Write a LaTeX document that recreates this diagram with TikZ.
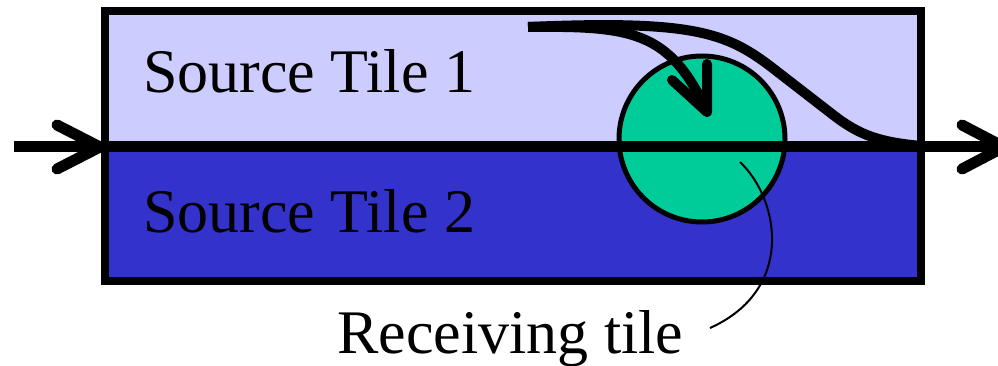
\documentclass[tikz,border=0pt]{standalone}
\usepackage{fontspec}
\setmainfont{Liberation Serif}
\definecolor{tilelight}{HTML}{CCCCFF}
\definecolor{tiledark}{HTML}{3333CC}
\definecolor{recv}{HTML}{00CC99}
\begin{document}
\begin{tikzpicture}[x=1pt,y=-1pt,
  label/.style={anchor=base west,inner sep=0pt,font=\fontsize{62}{70}\selectfont},
  flow/.style={line width=11pt,line cap=butt},
  barb/.style={line width=11pt,line cap=round,line join=round},
  border/.style={line width=8pt}]
\useasboundingbox (0,0) rectangle (998,366);
\clip (0,0) rectangle (998,366);
% tiles
\fill[tilelight] (105,11) rectangle (921,147);
\fill[tiledark] (105,147) rectangle (921,281);
% receiving tile
\node[circle,draw,line width=5pt,fill=recv,minimum size=166pt,inner sep=0pt] (rt) at (702,139) {};
% labels
\node[label] (s1) at (143,93) {Source Tile 1};
\node[label] (s2) at (143,233) {Source Tile 2};
\node[label] (rl) at (337,353) {Receiving tile};
% border
\draw[border] (105,11) rectangle (921,281);
% main flow
\coordinate (in) at (14,147);
\coordinate (out) at (1004,147);
\coordinate (ltip) at (100,147);
\draw[flow] (in) -- (out);
\draw[barb] (57,125) -- (ltip) -- (57,169);
\draw[barb] (962,125) -- (out) -- (962,169);
% curved flows
\coordinate (cs) at (528,27);
\coordinate (ctip) at (707,112);
\draw[line width=10pt,line cap=butt] (cs) .. controls (630,26) and (670,30) .. (ctip);
\draw[barb,line width=10pt] (672,80) -- (ctip) -- (707,64);
\draw[line width=10pt,line cap=butt] (cs) .. controls (690,20) and (725,32) .. (770,66)
  -- (832,114) .. controls (860,136) and (880,142) .. (921,146);
% leader
\draw[line width=2pt] (740,162) .. controls (780,200) and (795,290) .. (710,328);
\end{tikzpicture}
\end{document}
